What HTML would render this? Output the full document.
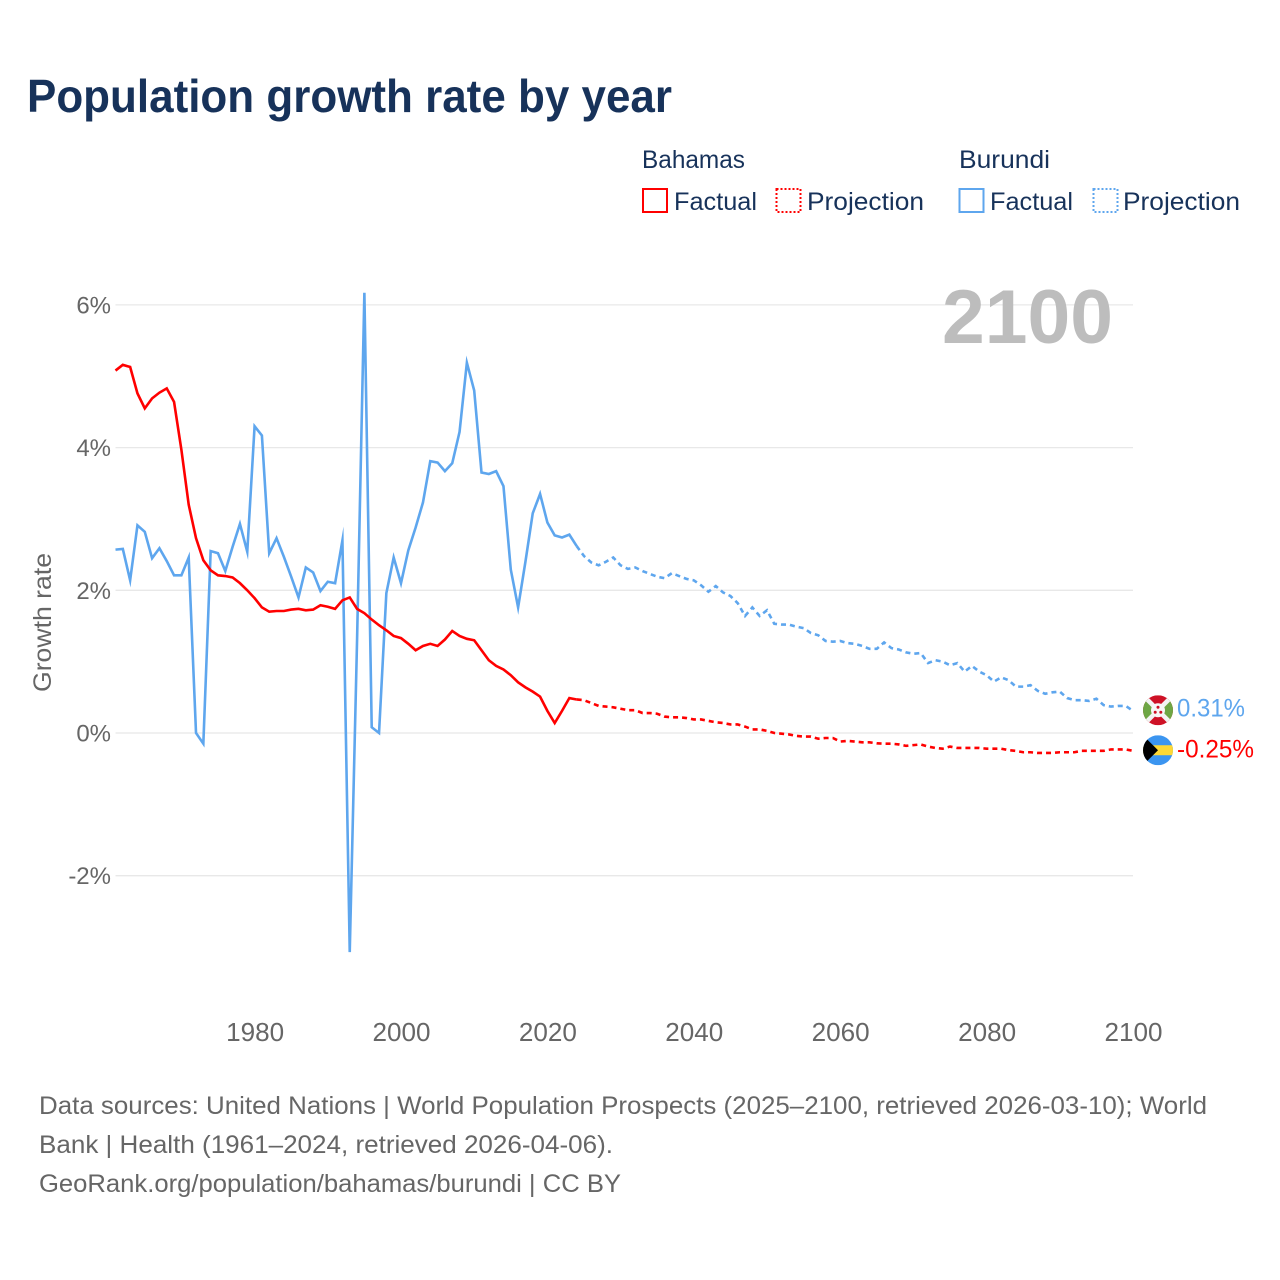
<!DOCTYPE html>
<html lang="en">
<head>
<meta charset="utf-8">
<title>Population growth rate by year</title>
<style>
html,body{margin:0;padding:0;background:#fff;}
svg{display:block;font-family:"Liberation Sans",Arial,sans-serif;}
</style>
</head>
<body>
<svg id="chart" xmlns="http://www.w3.org/2000/svg" width="1280" height="1280" viewBox="0 0 1280 1280">
  <rect x="0" y="0" width="1280" height="1280" fill="#fff"/>
  <text x="27" y="112" font-size="46" font-weight="700" fill="#17325a" textLength="645" lengthAdjust="spacingAndGlyphs">Population growth rate by year</text>

  <g font-size="25" fill="#17325a">
    <text x="642" y="168" textLength="103" lengthAdjust="spacingAndGlyphs">Bahamas</text>
    <text x="959" y="168" textLength="91" lengthAdjust="spacingAndGlyphs">Burundi</text>
    <rect x="643" y="189" width="24" height="23" fill="none" stroke="#ff0000" stroke-width="2"/>
    <text x="674" y="210" textLength="83" lengthAdjust="spacingAndGlyphs">Factual</text>
    <rect x="776.5" y="189" width="24" height="23" fill="none" stroke="#ff0000" stroke-width="2" stroke-dasharray="2 2"/>
    <text x="807" y="210" textLength="117" lengthAdjust="spacingAndGlyphs">Projection</text>
    <rect x="959.5" y="189" width="24" height="23" fill="none" stroke="#5ea6ee" stroke-width="2"/>
    <text x="990" y="210" textLength="83" lengthAdjust="spacingAndGlyphs">Factual</text>
    <rect x="1093.5" y="189" width="24" height="23" fill="none" stroke="#5ea6ee" stroke-width="2" stroke-dasharray="2 2"/>
    <text x="1123" y="210" textLength="117" lengthAdjust="spacingAndGlyphs">Projection</text>
  </g>

  <g id="grid"></g>
  <g id="yticks"></g>
  <g id="xticks"></g>

  <text x="0" y="0" transform="translate(51,692) rotate(-90)" font-size="25" fill="#666" textLength="139" lengthAdjust="spacingAndGlyphs">Growth rate</text>
  <text x="1113" y="343" text-anchor="end" font-size="76" font-weight="700" fill="#bdbdbd" textLength="171" lengthAdjust="spacingAndGlyphs">2100</text>

  <g id="series"></g>

  <defs>
    <clipPath id="flag-clip"><circle cx="0" cy="0" r="15"/></clipPath>
  </defs>

  <g id="flag-burundi">
    <g clip-path="url(#flag-clip)">
      <rect x="-15" y="-15" width="30" height="30" fill="#ce1126"/>
      <polygon points="-15,-15 0,0 -15,15" fill="#6ea644"/>
      <polygon points="15,-15 0,0 15,15" fill="#6ea644"/>
      <line x1="-15" y1="-15" x2="15" y2="15" stroke="#f3f3f3" stroke-width="4.5"/>
      <line x1="-15" y1="15" x2="15" y2="-15" stroke="#f3f3f3" stroke-width="4.5"/>
      <circle cx="0" cy="0" r="7" fill="#f7f7f7"/>
      <circle cx="0" cy="-3" r="1.5" fill="#ce1126"/>
      <circle cx="-2.8" cy="2" r="1.5" fill="#ce1126"/>
      <circle cx="2.8" cy="2" r="1.5" fill="#ce1126"/>
    </g>
  </g>
  <g id="flag-bahamas">
    <g clip-path="url(#flag-clip)">
      <rect x="-15" y="-15" width="30" height="30" fill="#3b95f0"/>
      <rect x="-15" y="-5" width="30" height="10" fill="#fdd835"/>
      <polygon points="-15,-15 0,0 -15,15" fill="#000"/>
    </g>
  </g>
  <text id="label-burundi" x="1177" y="716" font-size="25" fill="#5ea6ee" textLength="68" lengthAdjust="spacingAndGlyphs"></text>
  <text id="label-bahamas" x="1177" y="757" font-size="25" fill="#ff0000" textLength="77" lengthAdjust="spacingAndGlyphs"></text>

  <g font-size="25" fill="#666">
    <text x="39" y="1114" textLength="1168" lengthAdjust="spacingAndGlyphs">Data sources: United Nations | World Population Prospects (2025–2100, retrieved 2026-03-10); World</text>
    <text x="39" y="1153" textLength="574" lengthAdjust="spacingAndGlyphs">Bank | Health (1961–2024, retrieved 2026-04-06).</text>
    <text x="39" y="1192" textLength="582" lengthAdjust="spacingAndGlyphs">GeoRank.org/population/bahamas/burundi | CC BY</text>
  </g>
</svg>

<script>
const xTickLabels = [1980, 2000, 2020, 2040, 2060, 2080, 2100];
const yTickLabels = [6, 4, 2, 0, -2];
const lastFactualYear = 2024;
const years = [
1961,1962,1963,1964,1965,1966,1967,1968,1969,1970,1971,1972,1973,1974,1975,1976,1977,1978,1979,1980,
1981,1982,1983,1984,1985,1986,1987,1988,1989,1990,1991,1992,1993,1994,1995,1996,1997,1998,1999,2000,
2001,2002,2003,2004,2005,2006,2007,2008,2009,2010,2011,2012,2013,2014,2015,2016,2017,2018,2019,2020,
2021,2022,2023,2024,2025,2026,2027,2028,2029,2030,2031,2032,2033,2034,2035,2036,2037,2038,2039,2040,
2041,2042,2043,2044,2045,2046,2047,2048,2049,2050,2051,2052,2053,2054,2055,2056,2057,2058,2059,2060,
2061,2062,2063,2064,2065,2066,2067,2068,2069,2070,2071,2072,2073,2074,2075,2076,2077,2078,2079,2080,
2081,2082,2083,2084,2085,2086,2087,2088,2089,2090,2091,2092,2093,2094,2095,2096,2097,2098,2099,2100];
const bahamas = [
5.08,5.16,5.13,4.76,4.55,4.69,4.77,4.83,4.64,3.97,3.2,2.73,2.42,2.28,2.21,2.2,2.18,2.1,2.0,1.89,
1.76,1.70,1.71,1.71,1.73,1.74,1.72,1.73,1.79,1.77,1.74,1.86,1.90,1.74,1.68,1.59,1.51,1.44,1.36,1.33,
1.25,1.16,1.22,1.25,1.22,1.31,1.43,1.36,1.32,1.30,1.16,1.02,0.94,0.89,0.81,0.71,0.64,0.58,0.51,0.31,
0.14,0.31,0.49,0.47,0.46,0.42,0.38,0.37,0.36,0.34,0.32,0.32,0.28,0.28,0.27,0.23,0.22,0.22,0.21,0.19,
0.19,0.17,0.15,0.14,0.12,0.12,0.09,0.05,0.05,0.03,0,-0.01,-0.02,-0.04,-0.05,-0.05,-0.08,-0.07,-0.07,-0.12,
-0.11,-0.12,-0.13,-0.13,-0.145,-0.15,-0.15,-0.16,-0.18,-0.17,-0.16,-0.19,-0.21,-0.22,-0.19,-0.21,-0.21,-0.21,-0.21,-0.22,
-0.22,-0.22,-0.24,-0.25,-0.27,-0.27,-0.28,-0.28,-0.28,-0.27,-0.27,-0.27,-0.25,-0.25,-0.25,-0.25,-0.23,-0.23,-0.23,-0.25];
const burundi = [
2.57,2.58,2.14,2.91,2.82,2.45,2.59,2.41,2.21,2.21,2.46,0.0,-0.15,2.55,2.52,2.27,2.61,2.93,2.54,4.30,
4.17,2.52,2.73,2.47,2.19,1.90,2.32,2.25,1.99,2.12,2.10,2.70,-3.07,1.30,6.17,0.08,0.0,1.96,2.46,2.10,
2.56,2.88,3.23,3.81,3.79,3.67,3.78,4.22,5.19,4.80,3.65,3.63,3.67,3.46,2.29,1.76,2.40,3.08,3.35,2.95,
2.77,2.74,2.78,2.62,2.48,2.39,2.35,2.40,2.46,2.35,2.30,2.32,2.27,2.23,2.19,2.17,2.24,2.20,2.16,2.14,
2.07,1.98,2.06,1.97,1.92,1.82,1.64,1.76,1.64,1.72,1.53,1.52,1.52,1.49,1.47,1.40,1.37,1.29,1.28,1.29,
1.26,1.25,1.22,1.18,1.18,1.27,1.19,1.17,1.13,1.11,1.12,0.98,1.02,1.00,0.95,0.98,0.86,0.94,0.86,0.81,
0.72,0.78,0.74,0.65,0.65,0.67,0.59,0.55,0.57,0.58,0.49,0.46,0.46,0.45,0.48,0.39,0.37,0.38,0.38,0.31];

const RED = '#ff0000';
const BLUE = '#5ea6ee';
const NS = 'http://www.w3.org/2000/svg';

function xScale(year) { return 115.5 + (year - 1961) * (1133 - 115.5) / (2100 - 1961); }
function yScale(value) { return 733 - value * 71.35; }

function make(tag, parentId) {
  const el = document.createElementNS(NS, tag);
  document.getElementById(parentId).appendChild(el);
  return el;
}

function pointsFor(values, from, to) {
  const pts = [];
  years.forEach(function (yr, i) {
    if (yr >= from && yr <= to) pts.push(xScale(yr).toFixed(2) + ',' + yScale(values[i]).toFixed(2));
  });
  return pts.join(' ');
}

yTickLabels.forEach(function (v) {
  const line = make('line', 'grid');
  
  
  line.setAttribute('x1', xScale(1961));
  line.setAttribute('x2', xScale(2100));
  line.setAttribute('y1', yScale(v));
  line.setAttribute('y2', yScale(v));
  line.setAttribute('stroke', '#e8e8e8');
  line.setAttribute('stroke-width', '1.3');

  const label = make('text', 'yticks');
  
  
  label.setAttribute('x', 111);
  label.setAttribute('y', yScale(v) + 8.5);
  label.setAttribute('text-anchor', 'end');
  label.setAttribute('font-size', '24');
  label.setAttribute('fill', '#666');
  label.textContent = v + '%';
});

xTickLabels.forEach(function (yr) {
  const label = make('text', 'xticks');
  
  
  label.setAttribute('x', xScale(yr) + 0.5);
  label.setAttribute('y', 1041);
  label.setAttribute('text-anchor', 'middle');
  label.setAttribute('font-size', '25.5');
  label.setAttribute('fill', '#666');
  label.setAttribute('textLength', '58');
  label.setAttribute('lengthAdjust', 'spacingAndGlyphs');
  label.textContent = yr;
});

function drawLine(values, color, dashed, name) {
  const line = make('polyline', 'series');
  
  
  line.setAttribute('fill', 'none');
  line.setAttribute('stroke', color);
  line.setAttribute('stroke-width', '2.6');
  line.setAttribute('stroke-linejoin', 'miter');
  line.setAttribute('stroke-miterlimit', '20');
  if (dashed) line.setAttribute('stroke-dasharray', '5 4');
  line.setAttribute('points', dashed ? pointsFor(values, lastFactualYear, 2100) : pointsFor(values, 1961, lastFactualYear));
}

drawLine(burundi, BLUE, false, 'burundi-factual-line');
drawLine(burundi, BLUE, true, 'burundi-projection-line');
drawLine(bahamas, RED, false, 'bahamas-factual-line');
drawLine(bahamas, RED, true, 'bahamas-projection-line');

const burundiEnd = burundi[burundi.length - 1];
const bahamasEnd = bahamas[bahamas.length - 1];
document.getElementById('flag-burundi').setAttribute('transform', 'translate(1158,' + (yScale(burundiEnd) - 0.6) + ')');
document.getElementById('flag-bahamas').setAttribute('transform', 'translate(1158,' + (yScale(bahamasEnd) - 0.6) + ')');
const burundiLabel = document.getElementById('label-burundi');
burundiLabel.setAttribute('y', yScale(burundiEnd) + 5.5);
burundiLabel.textContent = burundiEnd.toFixed(2) + '%';
const bahamasLabel = document.getElementById('label-bahamas');
bahamasLabel.setAttribute('y', yScale(bahamasEnd) + 6.5);
bahamasLabel.textContent = bahamasEnd.toFixed(2) + '%';
</script>
</body>
</html>
